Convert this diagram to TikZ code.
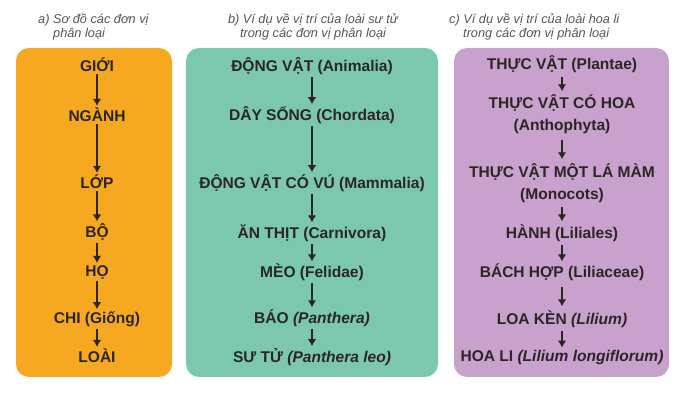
\documentclass[tikz,border=0pt]{standalone}
\usepackage{fontspec}
\setmainfont{Liberation Sans}
\usetikzlibrary{arrows.meta}
\definecolor{orangeA}{HTML}{F6A821}
\definecolor{tealB}{HTML}{7CC8AF}
\definecolor{purpleC}{HTML}{C8A2CD}
\definecolor{inkC}{HTML}{2B2624}
\definecolor{capC}{HTML}{555555}
\tikzset{
  rank/.style={draw=none,inner sep=2bp,font=\fontsize{15.6}{22}\selectfont\bfseries,text=inkC,align=center},
  caption/.style={draw=none,inner sep=0bp,font=\fontsize{12.8}{14}\selectfont\itshape,text=capC},
  link/.style={inkC,line width=1.2bp,->},
}
\begin{document}
\begin{tikzpicture}[>={Latex[width=8.5bp,length=7bp]},line join=bevel,]
\useasboundingbox (0bp,0bp) rectangle (692bp,400bp);
%%
\fill [orangeA,rounded corners=13bp] (16bp,23bp) rectangle (172bp,352bp);
\fill [tealB,rounded corners=13bp] (186bp,23bp) rectangle (438bp,352bp);
\fill [purpleC,rounded corners=13bp] (454bp,23bp) rectangle (669bp,352bp);
%%
\node (cap_a) at (38bp,373.5bp) [caption,anchor=west,align=left] {a) Sơ đồ các đơn vị\\\hspace*{15bp}phân loại};
\node (cap_b) at (313bp,373.5bp) [caption,align=center] {b) Ví dụ về vị trí của loài sư tử\\trong các đơn vị phân loại};
\node (cap_c) at (449bp,373.5bp) [caption,anchor=west,align=left] {c) Ví dụ về vị trí của loài hoa li\\\hspace*{14bp}trong các đơn vị phân loại};
%%
\node (a_0) at (97bp,335bp) [rank] {GIỚI};
\node (a_1) at (97bp,285bp) [rank] {NGÀNH};
\node (a_2) at (97bp,218bp) [rank] {LỚP};
\node (a_3) at (97bp,168bp) [rank] {BỘ};
\node (a_4) at (97bp,128bp) [rank] {HỌ};
\node (a_5) at (97bp,81bp) [rank] {CHI (Giống)};
\node (a_6) at (97bp,44bp) [rank] {LOÀI};
\draw [link] (a_0) -- (a_1);
\draw [link] (a_1) -- (a_2);
\draw [link] (a_2) -- (a_3);
\draw [link] (a_3) -- (a_4);
\draw [link] (a_4) -- (a_5);
\draw [link] (a_5) -- (a_6);
%%
\node (b_0) at (312bp,334bp) [rank] {ĐỘNG VẬT (Animalia)};
\node (b_1) at (312bp,285bp) [rank] {DÂY SỐNG (Chordata)};
\node (b_2) at (312bp,217bp) [rank] {ĐỘNG VẬT CÓ VÚ (Mammalia)};
\node (b_3) at (312bp,167bp) [rank] {ĂN THỊT (Carnivora)};
\node (b_4) at (312bp,128bp) [rank] {MÈO (Felidae)};
\node (b_5) at (312bp,82bp) [rank] {BÁO \textit{(Panthera)}};
\node (b_6) at (312bp,43bp) [rank] {SƯ TỬ \textit{(Panthera leo)}};
\draw [link] (b_0) -- (b_1);
\draw [link] (b_1) -- (b_2);
\draw [link] (b_2) -- (b_3);
\draw [link] (b_3) -- (b_4);
\draw [link] (b_4) -- (b_5);
\draw [link] (b_5) -- (b_6);
%%
\node (c_0) at (562bp,336bp) [rank] {THỰC VẬT (Plantae)};
\node (c_1) at (562bp,286bp) [rank] {THỰC VẬT CÓ HOA\\(Anthophyta)};
\node (c_2) at (562bp,217bp) [rank] {THỰC VẬT MỘT LÁ MÀM\\(Monocots)};
\node (c_3) at (562bp,167bp) [rank] {HÀNH (Liliales)};
\node (c_4) at (562bp,128bp) [rank] {BÁCH HỢP (Liliaceae)};
\node (c_5) at (562bp,81bp) [rank] {LOA KÈN \textit{(Lilium)}};
\node (c_6) at (562bp,43bp) [rank] {HOA LI \textit{(Lilium longiflorum)}};
\draw [link,shorten <=2bp,shorten >=1bp] (c_0) -- (c_1);
\draw [link,shorten <=4bp,shorten >=2bp] (c_1) -- (c_2);
\draw [link,shorten <=2bp,shorten >=1bp] (c_2) -- (c_3);
\draw [link,shorten <=1bp] (c_3) -- (c_4);
\draw [link,shorten <=4bp,shorten >=2bp] (c_4) -- (c_5);
\draw [link,shorten <=1bp] (c_5) -- (c_6);
%
\end{tikzpicture}
\end{document}
